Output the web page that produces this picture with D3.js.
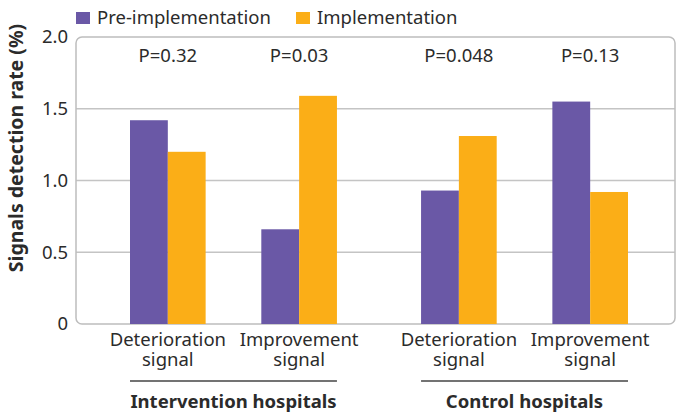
<!DOCTYPE html>
<html>
<head>
<meta charset="utf-8">
<script src="https://cdn.jsdelivr.net/npm/d3@7"></script>
<style>
  body { margin: 0; background: #fff; }
  text { font-family: "Noto Sans", "Open Sans", sans-serif; fill: #2b2b2b; }
</style>
</head>
<body>
<svg id="chart" width="676" height="414"></svg>
<script>
// data
var hospitals = ["Intervention hospitals", "Control hospitals"];
var signals = ["Deterioration signal", "Improvement signal"];
var series = ["Pre-implementation", "Implementation"];
var preValues = [1.42, 0.66, 0.93, 1.55];
var implValues = [1.20, 1.59, 1.31, 0.92];
var pValues = ["P=0.32", "P=0.03", "P=0.048", "P=0.13"];
var yTicks = [0, 0.5, 1.0, 1.5, 2.0];
var colors = ["#6a58a6", "#fbae17"];

var svg = d3.select("#chart");
var plotTop = 37, plotBottom = 324, plotLeft = 76, plotRight = 675;

var y = d3.scaleLinear().domain([0, 2]).range([plotBottom, plotTop]);
var xHosp = d3.scaleBand().domain(hospitals).range([130, 628]).paddingInner(0.289);
var xSig = d3.scaleBand().domain(signals).range([0, xHosp.bandwidth()]).paddingInner(0.424);
var xSer = d3.scaleBand().domain(series).range([0, xSig.bandwidth()]);

// build rows
var rows = [];
hospitals.forEach(function(h, hi) {
    signals.forEach(function(s, si) {
        var i = hi * 2 + si;
        rows.push({hosp: h, sig: s, p: pValues[i], vals: [preValues[i], implValues[i]]});
    });
});

// gridlines
svg.append("g")
    .selectAll("line")
    .data(yTicks.filter(function(d) { return d > 0 && d < 2; }))
    .enter().append("line")
    .attr("x1", plotLeft).attr("x2", plotRight)
    .attr("y1", function(d) { return y(d); })
    .attr("y2", function(d) { return y(d); })
    .attr("stroke", "#c4c4c4").attr("stroke-width", 1.5);

// frame
svg.append("rect")
    .attr("x", plotLeft).attr("y", plotTop)
    .attr("width", plotRight - plotLeft).attr("height", plotBottom - plotTop)
    .attr("rx", 6).attr("ry", 6)
    .attr("fill", "none").attr("stroke", "#bdbdbd").attr("stroke-width", 1.5);

// y tick labels
var yAxis = d3.axisLeft(y).tickValues(yTicks)
    .tickFormat(function(d) { return d === 0 ? "0" : d3.format(".1f")(d); })
    .tickSize(0).tickPadding(8);
var ya = svg.append("g").attr("transform", "translate(" + plotLeft + ",0)").call(yAxis);
ya.select(".domain").remove();
ya.selectAll("text").style("font-size", "18.5px").attr("fill", "#2b2b2b")
    .style("font-family", '"Noto Sans", sans-serif');

// y title
svg.append("text")
    .attr("transform", "translate(23,148) rotate(-90)")
    .attr("text-anchor", "middle")
    .style("font-size", "19.5px").style("font-weight", "bold")
    .text("Signals detection rate (%)");

// bars
var groups = svg.append("g").selectAll("g")
    .data(rows).enter().append("g")
    .attr("transform", function(d) { return "translate(" + (xHosp(d.hosp) + xSig(d.sig)) + ",0)"; });

groups.selectAll("rect")
    .data(function(d) { return d.vals.map(function(v, i) { return {ser: series[i], v: v, c: colors[i]}; }); })
    .enter().append("rect")
    .attr("x", function(d) { return xSer(d.ser); })
    .attr("width", xSer.bandwidth())
    .attr("y", function(d) { return y(d.v); })
    .attr("height", function(d) { return y(0) - y(d.v); })
    .attr("fill", function(d) { return d.c; });

// p values
groups.append("text")
    .attr("x", xSig.bandwidth() / 2).attr("y", 62)
    .attr("text-anchor", "middle").style("font-size", "18.5px")
    .text(function(d) { return d.p; });

// category labels (two lines)
groups.each(function(d) {
    var g = d3.select(this);
    d.sig.split(" ").forEach(function(p, i) {
        g.append("text")
            .attr("x", xSig.bandwidth() / 2).attr("y", 346 + i * 20)
            .attr("text-anchor", "middle").style("font-size", "18.5px")
            .text(p);
    });
});

// hospital brackets
var hg = svg.append("g").selectAll("g").data(hospitals).enter().append("g")
    .attr("transform", function(d) { return "translate(" + xHosp(d) + ",0)"; });
hg.append("line")
    .attr("x1", 0).attr("x2", xHosp.bandwidth())
    .attr("y1", 381).attr("y2", 381)
    .attr("stroke", "#444").attr("stroke-width", 1.5);
hg.append("text")
    .attr("x", xHosp.bandwidth() / 2).attr("y", 408)
    .attr("text-anchor", "middle")
    .style("font-size", "18.5px").style("font-weight", "bold")
    .text(function(d) { return d; });

// legend
var legX = [76, 296];
var leg = svg.append("g").selectAll("g").data(series).enter().append("g")
    .attr("transform", function(d, i) { return "translate(" + legX[i] + ",0)"; });
leg.append("rect").attr("x", 0).attr("y", 12).attr("width", 14).attr("height", 12)
    .attr("fill", function(d, i) { return colors[i]; });
leg.append("text").attr("x", 21).attr("y", 24).style("font-size", "18.5px")
    .text(function(d) { return d; });
</script>
</body>
</html>
